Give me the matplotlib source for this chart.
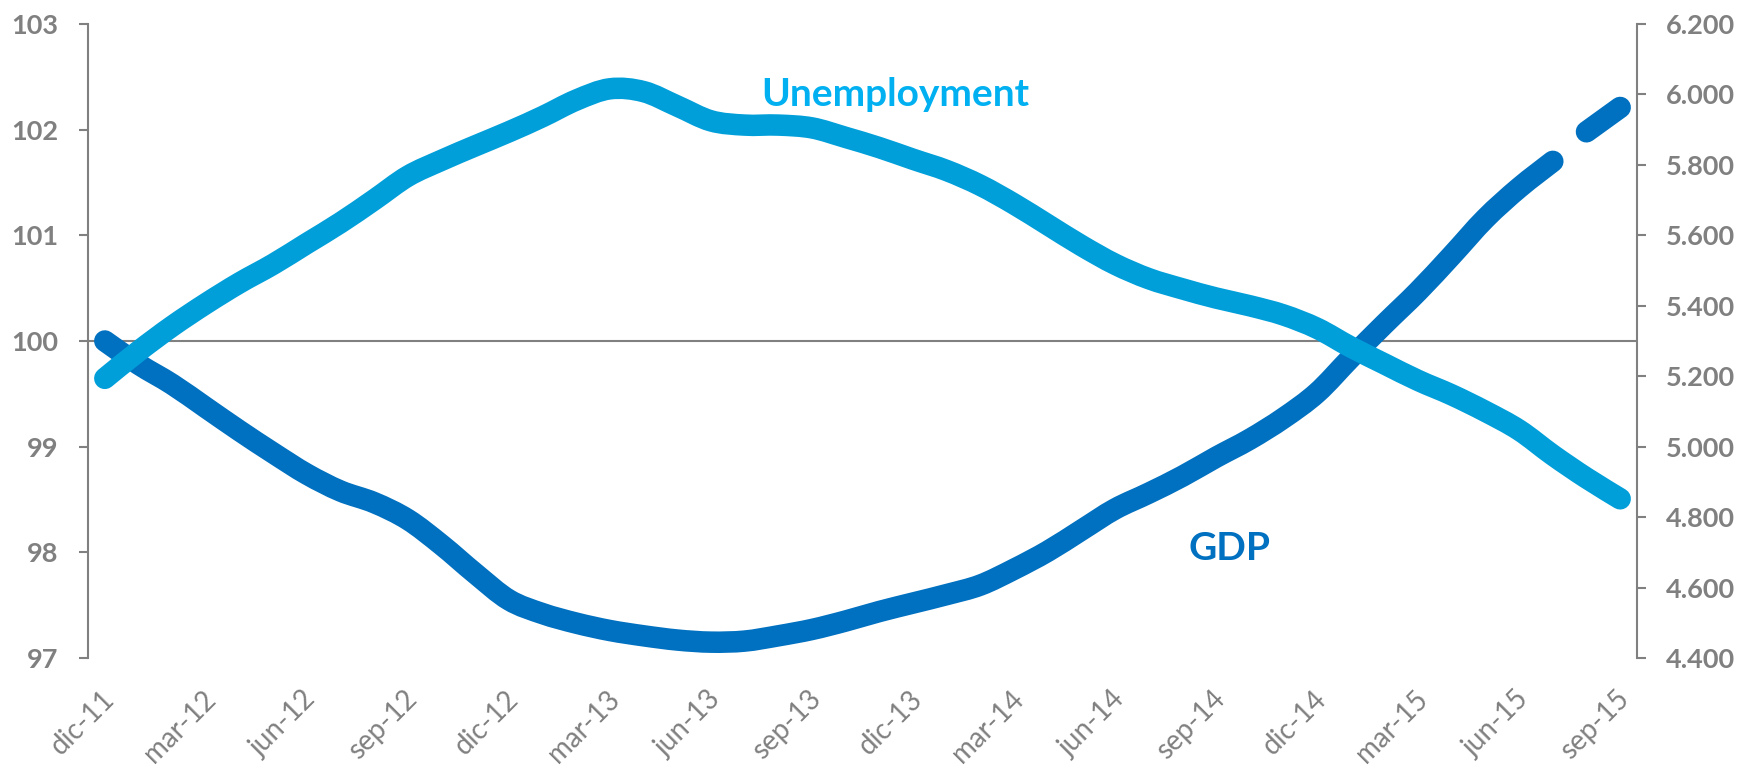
import numpy as np
import matplotlib
matplotlib.use("Agg")
import matplotlib.pyplot as plt
from matplotlib.path import Path
from matplotlib.patches import PathPatch
from matplotlib.transforms import ScaledTranslation

plt.rcParams['font.family'] = ['Lato', 'DejaVu Sans']

# ---- data (monthly, dic-11 .. sep-15) ----
months = ['dic-11', 'ene-12', 'feb-12', 'mar-12', 'abr-12', 'may-12', 'jun-12', 'jul-12', 'ago-12',
          'sep-12', 'oct-12', 'nov-12', 'dic-12', 'ene-13', 'feb-13', 'mar-13', 'abr-13', 'may-13',
          'jun-13', 'jul-13', 'ago-13', 'sep-13', 'oct-13', 'nov-13', 'dic-13', 'ene-14', 'feb-14',
          'mar-14', 'abr-14', 'may-14', 'jun-14', 'jul-14', 'ago-14', 'sep-14', 'oct-14', 'nov-14',
          'dic-14', 'ene-15', 'feb-15', 'mar-15', 'abr-15', 'may-15', 'jun-15', 'jul-15', 'ago-15',
          'sep-15']
tick_labels = ['dic-11', 'mar-12', 'jun-12', 'sep-12', 'dic-12', 'mar-13', 'jun-13', 'sep-13',
               'dic-13', 'mar-14', 'jun-14', 'sep-14', 'dic-14', 'mar-15', 'jun-15', 'sep-15']

# GDP index (left axis), dic-11 .. jul-15
gdp = [100.00, 99.78, 99.59, 99.37, 99.15, 98.94, 98.74, 98.58, 98.47, 98.31, 98.07, 97.80,
       97.55, 97.42, 97.33, 97.26, 97.21, 97.17, 97.15, 97.16, 97.21, 97.27, 97.35, 97.44,
       97.52, 97.60, 97.69, 97.84, 98.01, 98.21, 98.41, 98.56, 98.72, 98.90, 99.07, 99.27,
       99.51, 99.84, 100.16, 100.47, 100.81, 101.16, 101.45, 101.70]
# GDP, ago-15 .. sep-15 (separate segment)
gdp_last = [101.98, 102.21]

# Unemployment, thousands (right axis)
unemployment = [5194, 5271, 5342, 5406, 5465, 5518, 5577, 5636, 5701, 5768, 5813, 5854,
                5894, 5937, 5984, 6016, 6008, 5967, 5925, 5913, 5913, 5905, 5878, 5849,
                5816, 5784, 5742, 5689, 5630, 5571, 5518, 5477, 5448, 5422, 5400, 5374,
                5336, 5283, 5235, 5188, 5147, 5100, 5047, 4976, 4911, 4852]

left_ticks = [97, 98, 99, 100, 101, 102, 103]
right_ticks = [4400, 4600, 4800, 5000, 5200, 5400, 5600, 5800, 6000, 6200]
right_tick_labels = ['4.400', '4.600', '4.800', '5.000', '5.200', '5.400', '5.600', '5.800',
                     '6.000', '6.200']

GRAY = '#808080'
DARK = '#0070C0'
LIGHT = '#009FDA'


def smooth_line(axis, xs, ys, color, lw):
    """Draw a spreadsheet-style smoothed line (cubic Bezier through every point)."""
    pts = np.column_stack([xs, ys]).astype(float)
    n = len(pts)
    if n < 3:
        verts = [tuple(p) for p in pts]
        codes = [Path.MOVETO] + [Path.LINETO] * (n - 1)
    else:
        verts = [tuple(pts[0])]
        codes = [Path.MOVETO]
        for i in range(n - 1):
            p0 = pts[i - 1] if i > 0 else pts[i]
            p1 = pts[i]
            p2 = pts[i + 1]
            p3 = pts[i + 2] if i + 2 < n else pts[i + 1]
            c1 = p1 + (p2 - p0) / 6.0
            c2 = p2 - (p3 - p1) / 6.0
            verts += [tuple(c1), tuple(c2), tuple(p2)]
            codes += [Path.CURVE4] * 3
    patch = PathPatch(Path(verts, codes), fill=False, edgecolor=color, lw=lw,
                      capstyle='round', joinstyle='round', clip_on=False, zorder=3)
    axis.add_patch(patch)


W, H = 1746, 769
fig = plt.figure(figsize=(W / 100, H / 100), dpi=100)
ax = fig.add_axes([88 / W, 1 - 658 / H, (1637 - 88) / W, (658 - 24) / H])
ax2 = ax.twinx()

x = np.arange(len(months))
lw = 15.5
smooth_line(ax, x[:len(gdp)], gdp, DARK, lw)
smooth_line(ax, x[len(gdp):], gdp_last, DARK, lw)
smooth_line(ax2, x, unemployment, LIGHT, lw)

ax.axhline(100, color=GRAY, lw=1.5, zorder=1)

ax.set_xlim(-0.5, len(months) - 0.5)
ax.set_ylim(97, 103)
ax2.set_ylim(4400, 6200)

# spines
for a in (ax, ax2):
    a.spines['top'].set_visible(False)
    a.spines['bottom'].set_visible(False)
ax.spines['right'].set_visible(False)
ax2.spines['left'].set_visible(False)
ax.spines['left'].set_color(GRAY)
ax.spines['left'].set_linewidth(1.5)
ax2.spines['right'].set_color(GRAY)
ax2.spines['right'].set_linewidth(1.5)

# y ticks
ax.set_yticks(left_ticks)
ax.set_yticklabels([str(t) for t in left_ticks], fontweight='bold')
ax.tick_params(axis='y', direction='out', length=6.5, width=1.5, color=GRAY,
               labelcolor=GRAY, labelsize=19.5, pad=15)
ax2.set_yticks(right_ticks)
ax2.set_yticklabels(right_tick_labels, fontweight='bold')
ax2.tick_params(axis='y', direction='out', length=6.5, width=1.5, color=GRAY,
                labelcolor=GRAY, labelsize=19.5, pad=14)

# x ticks
ax.set_xticks(x[::3])
ax.set_xticklabels(tick_labels, rotation=45, ha='right', va='top', rotation_mode='anchor')
ax.tick_params(axis='x', length=0, labelcolor=GRAY, labelsize=20, pad=20)
off = ScaledTranslation(-4 / 100, 0, fig.dpi_scale_trans)
for lab in ax.get_xticklabels():
    lab.set_transform(lab.get_transform() + off)

# series labels
ax.text(23.46, 102.22, 'Unemployment', color='#00B0F0', fontsize=28, fontweight='bold',
        ha='center', va='baseline')
ax.text(33.4, 97.93, 'GDP', color=DARK, fontsize=28, fontweight='bold',
        ha='center', va='baseline')

fig.savefig('out.png', dpi=100)
